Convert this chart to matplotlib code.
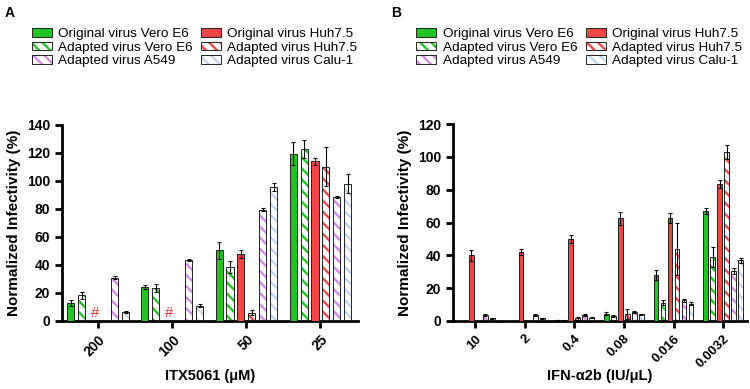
"""
Normalized infectivity bar charts (ITX5061 and IFN-a2b)
"""
import numpy as np
import matplotlib
matplotlib.use('Agg')
import matplotlib.pyplot as plt
from matplotlib.patches import Patch

plt.rcParams['font.family'] = ['Liberation Sans', 'DejaVu Sans']
plt.rcParams['hatch.linewidth'] = 1.7

series = ['Original virus Vero E6', 'Adapted virus Vero E6',
          'Original virus Huh7.5', 'Adapted virus Huh7.5',
          'Adapted virus A549', 'Adapted virus Calu-1']

# panel A
itx_doses = ['200', '100', '50', '25']
itx_vero = [13, 24.5, 50.5, 119.5]
itx_vero_err = [2, 1.5, 6, 8.5]
itx_vero_ad = [18.5, 23.5, 38.5, 122.5]
itx_vero_ad_err = [2.5, 3, 4, 6.5]
itx_huh = [0, 0, 48, 114]
itx_huh_err = [0, 0, 3, 2.5]
itx_huh_ad = [0, 0, 6, 110]
itx_huh_ad_err = [0, 0, 1.5, 14]
itx_a549 = [31, 43.5, 79.5, 88.5]
itx_a549_err = [1, 1, 1, 1]
itx_calu = [6.5, 11, 95.5, 98]
itx_calu_err = [0.8, 1, 3, 7]
itx_missing = [0, 1]   # groups marked with '#'

# panel B
ifn_doses = ['10', '2', '0.4', '0.08', '0.016', '0.0032']
ifn_vero = [0.3, 0.3, 0.6, 4.5, 28, 67]
ifn_vero_err = [0, 0, 0.2, 1, 3, 2]
ifn_vero_ad = [0.2, 0.2, 0.4, 3, 11, 39]
ifn_vero_ad_err = [0, 0, 0.2, 0.5, 1.5, 6]
ifn_huh = [40, 42, 50, 62.5, 63, 83.5]
ifn_huh_err = [3.5, 2, 2.5, 4, 3, 2.5]
ifn_huh_ad = [0, 0, 1.5, 4, 44, 103]
ifn_huh_ad_err = [0, 0, 1, 3, 16, 4]
ifn_a549 = [3.5, 3.5, 3.5, 5.5, 12.5, 30.5]
ifn_a549_err = [0.5, 0.8, 0.5, 0.8, 1, 2]
ifn_calu = [1.5, 1.5, 2, 4, 10.5, 37]
ifn_calu_err = [0.5, 0.5, 0.3, 0.5, 1, 1.5]

colors = ['#22c322', '#22c322', '#ef4646', '#ef4646', '#d48ae8', '#c3d4ee']
hatched = [False, True, False, True, True, True]
HATCH = '\\\\\\'


def draw_panel(ax, labels, values, errors, step, width, xfs):
    x = np.arange(len(labels))
    n = len(values)
    for i in range(n):
        pos = x + (i - (n - 1) / 2) * step
        if hatched[i]:
            ax.bar(pos, values[i], width, color='white', edgecolor=colors[i],
                   hatch=HATCH, linewidth=0, zorder=2)
            ax.bar(pos, values[i], width, fill=False, edgecolor='#222222',
                   linewidth=0.7, zorder=3)
        else:
            ax.bar(pos, values[i], width, color=colors[i],
                   edgecolor='#222222', linewidth=0.7, zorder=3)
        err = np.array(errors[i])
        keep = err > 0
        ax.errorbar(pos[keep], np.array(values[i])[keep], yerr=err[keep],
                    fmt='none', ecolor='black', elinewidth=0.8,
                    capsize=1.5, capthick=0.8, zorder=4)
    ax.set_xticks(x)
    ax.set_xticklabels(labels, rotation=45, ha='right', rotation_mode='anchor',
                       fontweight='bold', fontsize=xfs)
    ax.spines['right'].set_visible(False)
    ax.spines['top'].set_visible(False)
    ax.spines['left'].set_linewidth(2)
    ax.spines['bottom'].set_linewidth(2)
    ax.tick_params(width=2, length=5, labelsize=10)
    ax.tick_params(axis='x', labelsize=xfs)
    for lab in ax.get_yticklabels():
        lab.set_fontweight('bold')
    ax.set_ylabel('Normalized Infectivity (%)', fontweight='bold',
                  fontsize=11)
    return x


fig = plt.figure(figsize=(7.5, 3.89), dpi=100)
axA = fig.add_axes([0.0827, 0.175, 0.394, 0.504])
axB = fig.add_axes([0.604, 0.175, 0.392, 0.506])

valsA = [itx_vero, itx_vero_ad, itx_huh, itx_huh_ad, itx_a549, itx_calu]
errsA = [itx_vero_err, itx_vero_ad_err, itx_huh_err, itx_huh_ad_err,
         itx_a549_err, itx_calu_err]
xA = draw_panel(axA, itx_doses, valsA, errsA, 0.148, 0.095, 10)
axA.set_ylim(0, 140)
axA.set_yticks(range(0, 141, 20))
axA.set_xlim(-0.49, 3.5)
for g in itx_missing:
    axA.text(xA[g] - 0.05, 1, '#', color='#ee3030', ha='center', va='bottom',
             fontsize=10.5)
axA.set_xlabel('ITX5061 (μM)', fontweight='bold', fontsize=10.5)
axA.xaxis.set_label_coords(0.5, -0.245)

valsB = [ifn_vero, ifn_vero_ad, ifn_huh, ifn_huh_ad, ifn_a549, ifn_calu]
errsB = [ifn_vero_err, ifn_vero_ad_err, ifn_huh_err, ifn_huh_ad_err,
         ifn_a549_err, ifn_calu_err]
draw_panel(axB, ifn_doses, valsB, errsB, 0.141, 0.1, 9.5)
axB.set_ylim(0, 120)
axB.set_yticks(range(0, 121, 20))
axB.set_xlim(-0.44, 5.48)
axB.set_xlabel('IFN-α2b (IU/μL)', fontweight='bold', fontsize=10.5)
axB.xaxis.set_label_coords(0.5, -0.245)

# legends
handles = []
for i in range(len(series)):
    if hatched[i]:
        handles.append((Patch(facecolor='white', edgecolor=colors[i],
                              hatch=HATCH, linewidth=0),
                        Patch(fill=False, edgecolor='#222222',
                              linewidth=0.7)))
    else:
        handles.append(Patch(facecolor=colors[i], edgecolor='#222222',
                             linewidth=0.7))
order = [0, 1, 4, 2, 3, 5]
for ax, x0 in [(axA, 0.042), (axB, 0.555)]:
    ax.legend([handles[k] for k in order], [series[k] for k in order],
              ncol=2, loc='upper left', bbox_to_anchor=(x0, 0.928),
              bbox_transform=fig.transFigure, frameon=False, fontsize=9.7,
              handlelength=1.5, handleheight=0.6, handletextpad=0.45,
              columnspacing=0.65, labelspacing=0.12, borderaxespad=0,
              borderpad=0)

fig.text(0.006, 0.985, 'A', fontweight='bold', fontsize=10, va='top')
fig.text(0.521, 0.985, 'B', fontweight='bold', fontsize=10, va='top')

fig.savefig('out.png', dpi=100)
plt.close('all')
